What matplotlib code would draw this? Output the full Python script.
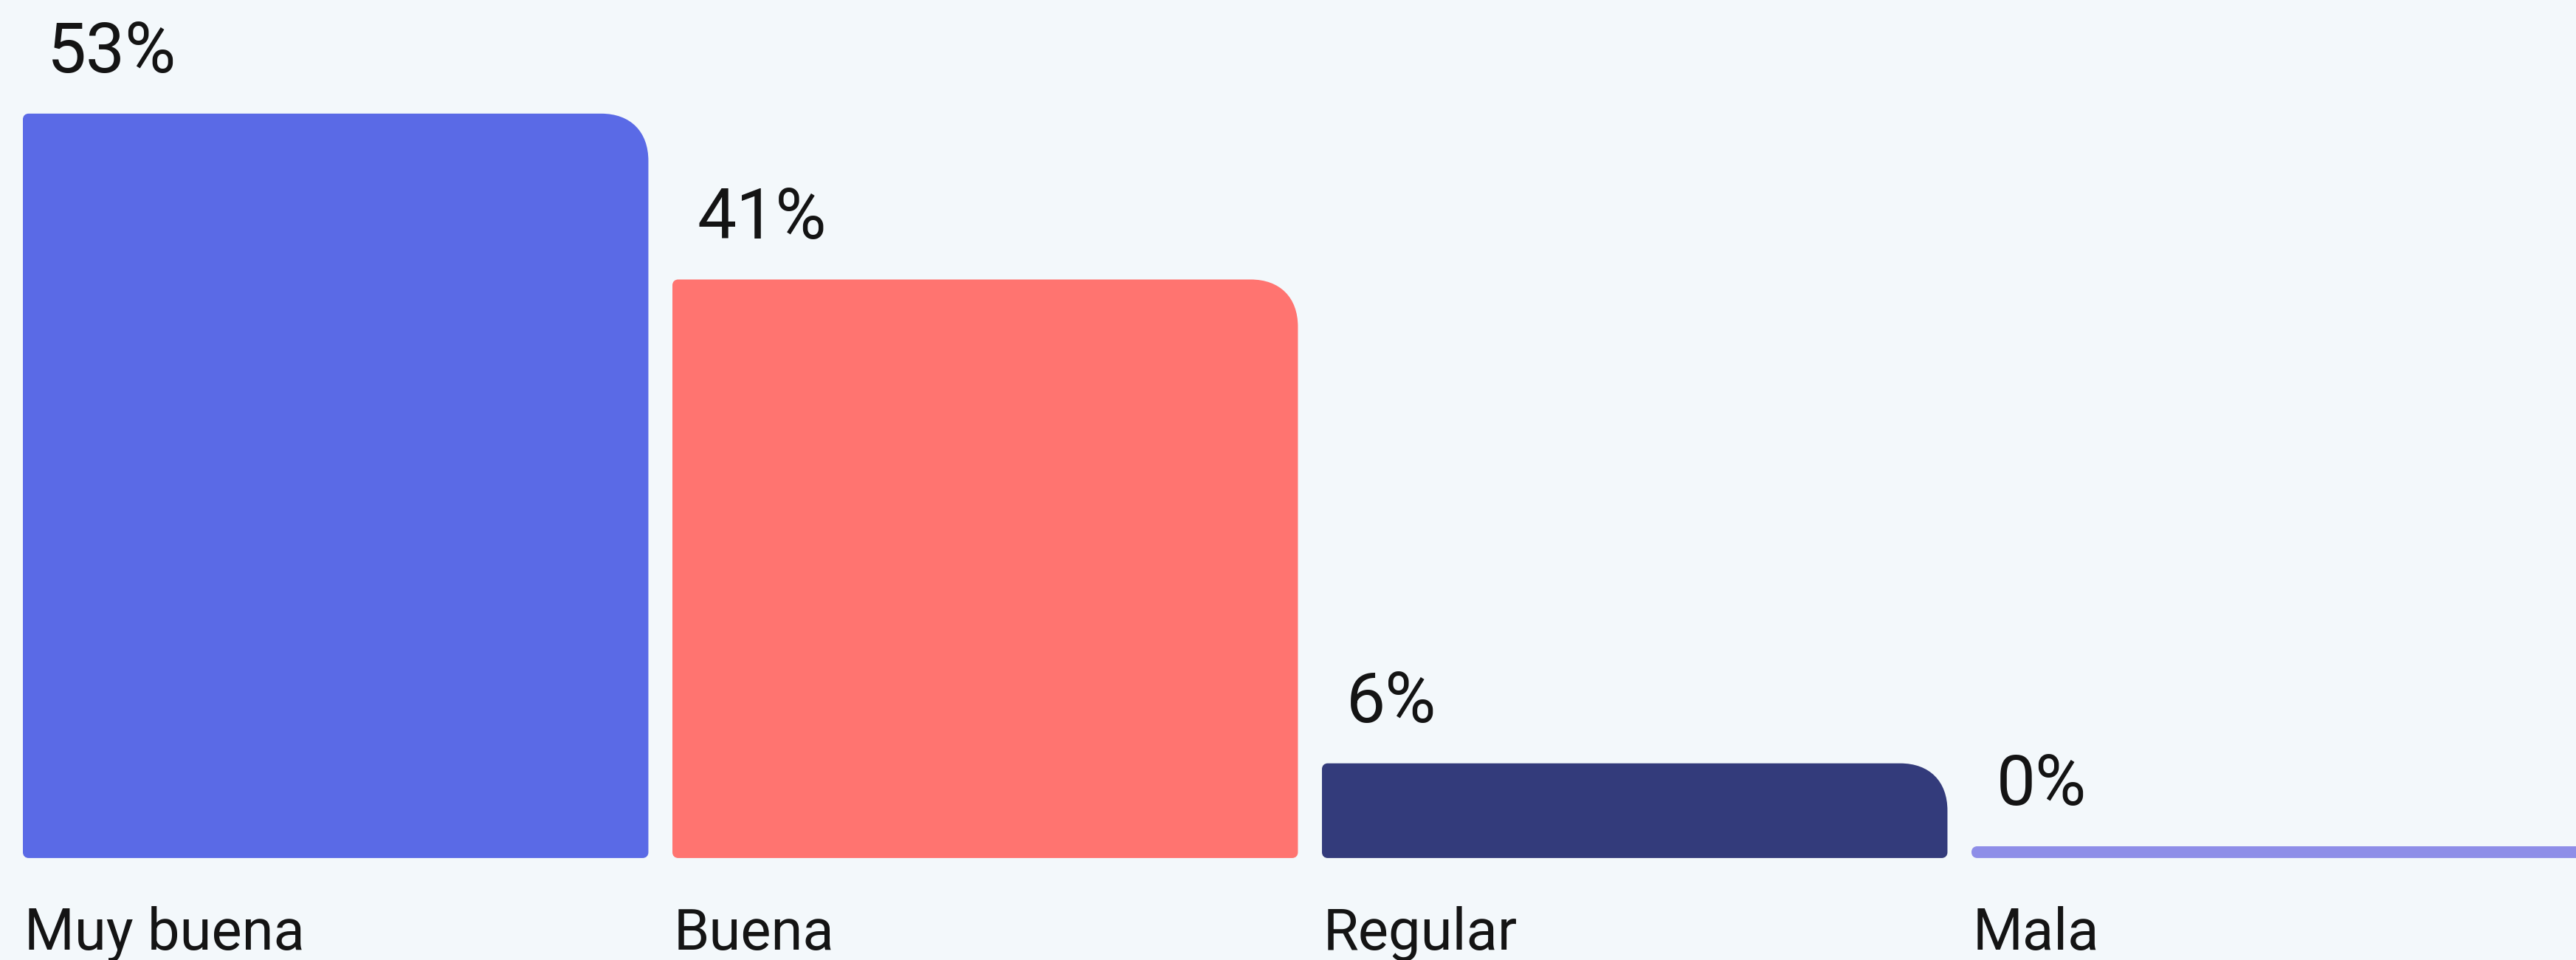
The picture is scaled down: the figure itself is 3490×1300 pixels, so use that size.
import numpy as np
import matplotlib.pyplot as plt
from matplotlib.path import Path
from matplotlib.patches import PathPatch
from matplotlib.transforms import blended_transform_factory

categories = ["Muy buena", "Buena", "Regular", "Mala"]
values = [53, 41, 6, 0]
labels = ["53%", "41%", "6%", "0%"]
colors = ["#5A6AE6", "#FF7470", "#333B7B", "#8E8EE8"]

bg = "#F3F8FB"
W, H = 3490, 1300
plt.rcParams['font.family'] = ['Roboto', 'DejaVu Sans']

fig = plt.figure(figsize=(W / 100, H / 100), dpi=100, facecolor=bg)
ax = fig.add_axes([0, 0, 1, 1])
ax.set_facecolor(bg)
ax.axis('off')

# layout (pixels -> data units)
step = 880.0
width = 0.963
floor = 0.85          # small base so 0% still shows as a strip
x0 = 31 + width * step / 2
ax.set_xlim(-x0 / step, -x0 / step + W / step)
ppu = 18.72
y0 = 154
ax.set_ylim(-y0 / ppu, (H - y0) / ppu)

sx = W / np.diff(ax.get_xlim())[0]
sy = H / np.diff(ax.get_ylim())[0]


def rounded(x, y, w, h, r_tr, r_o):
    hp, wp = h * sy, w * sx
    r_tr = min(r_tr, hp / 2, wp / 2)
    r_o = min(r_o, hp / 2, wp / 2)
    k = 0.62  # a bit squarer than a circle
    tx, ty = r_tr / sx, r_tr / sy
    ox, oy = r_o / sx, r_o / sy
    verts = [
        (x + ox, y),
        (x + w - ox, y),
        (x + w - ox + k * ox, y), (x + w, y + oy - k * oy), (x + w, y + oy),
        (x + w, y + h - ty),
        (x + w, y + h - ty + k * ty), (x + w - tx + k * tx, y + h), (x + w - tx, y + h),
        (x + ox, y + h),
        (x + ox - k * ox, y + h), (x, y + h - oy + k * oy), (x, y + h - oy),
        (x, y + oy),
        (x, y + oy - k * oy), (x + ox - k * ox, y), (x + ox, y),
        (x + ox, y),
    ]
    codes = [Path.MOVETO, Path.LINETO] + [Path.CURVE4] * 3 + [Path.LINETO] + [Path.CURVE4] * 3 \
        + [Path.LINETO] + [Path.CURVE4] * 3 + [Path.LINETO] + [Path.CURVE4] * 3 + [Path.CLOSEPOLY]
    return Path(verts, codes)


xs = np.arange(len(categories))
heights = np.array(values) + floor
bars = ax.bar(xs, heights, width=width, bottom=-floor, color=colors)

trans = blended_transform_factory(ax.transData, ax.transAxes)
for rect, c, lab, cat in zip(bars, colors, labels, categories):
    x, y = rect.get_x(), rect.get_y()
    w, h = rect.get_width(), rect.get_height()
    rect.set_visible(False)
    ax.add_patch(PathPatch(rounded(x, y, w, h, 64, 8), facecolor=c, edgecolor='none'))
    ax.annotate(lab, (x, y + h), xytext=(24, 40), textcoords='offset points',
                fontsize=68, color='#141414', va='baseline', ha='left')
    ax.text(x + 2 / sx, 14 / H, cat, transform=trans, fontsize=56, color='#141414',
            va='baseline', ha='left')

fig.savefig("out.png", dpi=100, facecolor=bg)
